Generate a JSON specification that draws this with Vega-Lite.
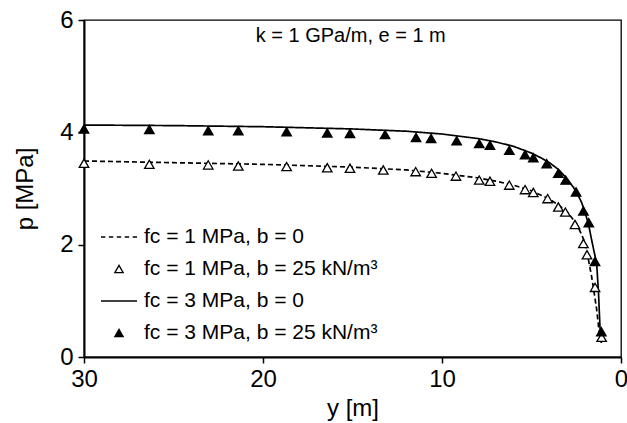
{
  "$schema": "https://vega.github.io/schema/vega-lite/v6.json",
  "width": 537,
  "height": 337,
  "autosize": "none",
  "padding": {"left": 84, "top": 20, "right": 6, "bottom": 66},
  "background": "white",
  "config": {
    "font": "Liberation Sans",
    "view": {"stroke": "black", "strokeWidth": 1.3},
    "axis": {
      "domainColor": "black", "domainWidth": 2, "tickColor": "black", "tickWidth": 1.5, "tickSize": 6,
      "grid": false, "labelFont": "Liberation Sans", "labelFontSize": 24, "labelColor": "black", "labelFlush": false,
      "titleFont": "Liberation Sans", "titleFontSize": 24, "titleFontWeight": "normal", "titleColor": "black"
    }
  },
  "datasets": {
    "lines": [
      {"series": "fc = 1 MPa, b = 0", "y_m": 30, "p": 3.49},
      {"series": "fc = 1 MPa, b = 0", "y_m": 25, "p": 3.46},
      {"series": "fc = 1 MPa, b = 0", "y_m": 20, "p": 3.43},
      {"series": "fc = 1 MPa, b = 0", "y_m": 15, "p": 3.38},
      {"series": "fc = 1 MPa, b = 0", "y_m": 12, "p": 3.33},
      {"series": "fc = 1 MPa, b = 0", "y_m": 10, "p": 3.27},
      {"series": "fc = 1 MPa, b = 0", "y_m": 8, "p": 3.19},
      {"series": "fc = 1 MPa, b = 0", "y_m": 7, "p": 3.13},
      {"series": "fc = 1 MPa, b = 0", "y_m": 6, "p": 3.06},
      {"series": "fc = 1 MPa, b = 0", "y_m": 5, "p": 2.96},
      {"series": "fc = 1 MPa, b = 0", "y_m": 4, "p": 2.81},
      {"series": "fc = 1 MPa, b = 0", "y_m": 3.5, "p": 2.71},
      {"series": "fc = 1 MPa, b = 0", "y_m": 3, "p": 2.58},
      {"series": "fc = 1 MPa, b = 0", "y_m": 2.5, "p": 2.38},
      {"series": "fc = 1 MPa, b = 0", "y_m": 2.2, "p": 2.18},
      {"series": "fc = 1 MPa, b = 0", "y_m": 2.0, "p": 2.02},
      {"series": "fc = 1 MPa, b = 0", "y_m": 1.83, "p": 1.75},
      {"series": "fc = 1 MPa, b = 0", "y_m": 1.64, "p": 1.43},
      {"series": "fc = 1 MPa, b = 0", "y_m": 1.55, "p": 1.25},
      {"series": "fc = 1 MPa, b = 0", "y_m": 1.36, "p": 0.85},
      {"series": "fc = 1 MPa, b = 0", "y_m": 1.17, "p": 0.3},
      {"series": "fc = 3 MPa, b = 0", "y_m": 30, "p": 4.13},
      {"series": "fc = 3 MPa, b = 0", "y_m": 25, "p": 4.12},
      {"series": "fc = 3 MPa, b = 0", "y_m": 20, "p": 4.1},
      {"series": "fc = 3 MPa, b = 0", "y_m": 15, "p": 4.06},
      {"series": "fc = 3 MPa, b = 0", "y_m": 12, "p": 4.02},
      {"series": "fc = 3 MPa, b = 0", "y_m": 10, "p": 3.97},
      {"series": "fc = 3 MPa, b = 0", "y_m": 8, "p": 3.89},
      {"series": "fc = 3 MPa, b = 0", "y_m": 7, "p": 3.83},
      {"series": "fc = 3 MPa, b = 0", "y_m": 6, "p": 3.75},
      {"series": "fc = 3 MPa, b = 0", "y_m": 5, "p": 3.63},
      {"series": "fc = 3 MPa, b = 0", "y_m": 4.5, "p": 3.55},
      {"series": "fc = 3 MPa, b = 0", "y_m": 4, "p": 3.46},
      {"series": "fc = 3 MPa, b = 0", "y_m": 3.5, "p": 3.34},
      {"series": "fc = 3 MPa, b = 0", "y_m": 3, "p": 3.17},
      {"series": "fc = 3 MPa, b = 0", "y_m": 2.5, "p": 2.95},
      {"series": "fc = 3 MPa, b = 0", "y_m": 2.2, "p": 2.75},
      {"series": "fc = 3 MPa, b = 0", "y_m": 2.0, "p": 2.57},
      {"series": "fc = 3 MPa, b = 0", "y_m": 1.8, "p": 2.34},
      {"series": "fc = 3 MPa, b = 0", "y_m": 1.65, "p": 2.1},
      {"series": "fc = 3 MPa, b = 0", "y_m": 1.5, "p": 1.87},
      {"series": "fc = 3 MPa, b = 0", "y_m": 1.36, "p": 1.67},
      {"series": "fc = 3 MPa, b = 0", "y_m": 1.25, "p": 1.1},
      {"series": "fc = 3 MPa, b = 0", "y_m": 1.17, "p": 0.5},
      {"series": "fc = 3 MPa, b = 0", "y_m": 1.1, "p": 0.25}
    ],
    "points": [
      {"series": "fc = 1 MPa, b = 25 kN/m³", "y_m": 30, "p": 3.45},
      {"series": "fc = 1 MPa, b = 25 kN/m³", "y_m": 26.35, "p": 3.43},
      {"series": "fc = 1 MPa, b = 25 kN/m³", "y_m": 23.06, "p": 3.42},
      {"series": "fc = 1 MPa, b = 25 kN/m³", "y_m": 21.38, "p": 3.4},
      {"series": "fc = 1 MPa, b = 25 kN/m³", "y_m": 18.68, "p": 3.39},
      {"series": "fc = 1 MPa, b = 25 kN/m³", "y_m": 16.41, "p": 3.37},
      {"series": "fc = 1 MPa, b = 25 kN/m³", "y_m": 15.14, "p": 3.36},
      {"series": "fc = 1 MPa, b = 25 kN/m³", "y_m": 13.28, "p": 3.33},
      {"series": "fc = 1 MPa, b = 25 kN/m³", "y_m": 11.47, "p": 3.3},
      {"series": "fc = 1 MPa, b = 25 kN/m³", "y_m": 10.58, "p": 3.27},
      {"series": "fc = 1 MPa, b = 25 kN/m³", "y_m": 9.22, "p": 3.22},
      {"series": "fc = 1 MPa, b = 25 kN/m³", "y_m": 7.92, "p": 3.15},
      {"series": "fc = 1 MPa, b = 25 kN/m³", "y_m": 7.32, "p": 3.13},
      {"series": "fc = 1 MPa, b = 25 kN/m³", "y_m": 6.24, "p": 3.06},
      {"series": "fc = 1 MPa, b = 25 kN/m³", "y_m": 5.36, "p": 2.98},
      {"series": "fc = 1 MPa, b = 25 kN/m³", "y_m": 4.9, "p": 2.93},
      {"series": "fc = 1 MPa, b = 25 kN/m³", "y_m": 4.1, "p": 2.82},
      {"series": "fc = 1 MPa, b = 25 kN/m³", "y_m": 3.5, "p": 2.67},
      {"series": "fc = 1 MPa, b = 25 kN/m³", "y_m": 3.11, "p": 2.58},
      {"series": "fc = 1 MPa, b = 25 kN/m³", "y_m": 2.57, "p": 2.36},
      {"series": "fc = 1 MPa, b = 25 kN/m³", "y_m": 2.1, "p": 2.02},
      {"series": "fc = 1 MPa, b = 25 kN/m³", "y_m": 1.9, "p": 1.82},
      {"series": "fc = 1 MPa, b = 25 kN/m³", "y_m": 1.45, "p": 1.24},
      {"series": "fc = 1 MPa, b = 25 kN/m³", "y_m": 1.08, "p": 0.35},
      {"series": "fc = 3 MPa, b = 25 kN/m³", "y_m": 30, "p": 4.06},
      {"series": "fc = 3 MPa, b = 25 kN/m³", "y_m": 26.35, "p": 4.05},
      {"series": "fc = 3 MPa, b = 25 kN/m³", "y_m": 23.06, "p": 4.03},
      {"series": "fc = 3 MPa, b = 25 kN/m³", "y_m": 21.38, "p": 4.03},
      {"series": "fc = 3 MPa, b = 25 kN/m³", "y_m": 18.68, "p": 4.01},
      {"series": "fc = 3 MPa, b = 25 kN/m³", "y_m": 16.41, "p": 3.99},
      {"series": "fc = 3 MPa, b = 25 kN/m³", "y_m": 15.14, "p": 3.98},
      {"series": "fc = 3 MPa, b = 25 kN/m³", "y_m": 13.18, "p": 3.96},
      {"series": "fc = 3 MPa, b = 25 kN/m³", "y_m": 11.45, "p": 3.91},
      {"series": "fc = 3 MPa, b = 25 kN/m³", "y_m": 10.61, "p": 3.89},
      {"series": "fc = 3 MPa, b = 25 kN/m³", "y_m": 9.18, "p": 3.85},
      {"series": "fc = 3 MPa, b = 25 kN/m³", "y_m": 7.92, "p": 3.8},
      {"series": "fc = 3 MPa, b = 25 kN/m³", "y_m": 7.32, "p": 3.77},
      {"series": "fc = 3 MPa, b = 25 kN/m³", "y_m": 6.24, "p": 3.68},
      {"series": "fc = 3 MPa, b = 25 kN/m³", "y_m": 5.36, "p": 3.6},
      {"series": "fc = 3 MPa, b = 25 kN/m³", "y_m": 4.9, "p": 3.55},
      {"series": "fc = 3 MPa, b = 25 kN/m³", "y_m": 4.15, "p": 3.44},
      {"series": "fc = 3 MPa, b = 25 kN/m³", "y_m": 3.5, "p": 3.27},
      {"series": "fc = 3 MPa, b = 25 kN/m³", "y_m": 3.09, "p": 3.15},
      {"series": "fc = 3 MPa, b = 25 kN/m³", "y_m": 2.51, "p": 2.94},
      {"series": "fc = 3 MPa, b = 25 kN/m³", "y_m": 2.1, "p": 2.6},
      {"series": "fc = 3 MPa, b = 25 kN/m³", "y_m": 1.8, "p": 2.39},
      {"series": "fc = 3 MPa, b = 25 kN/m³", "y_m": 1.45, "p": 1.7},
      {"series": "fc = 3 MPa, b = 25 kN/m³", "y_m": 1.1, "p": 0.45}
    ],
    "note": [{"y_m": 15.1, "p": 5.71, "label": "k = 1 GPa/m, e = 1 m"}]
  },
  "layer": [
    {
      "data": {"name": "lines"},
      "mark": {"type": "line", "color": "black", "strokeWidth": 1.7},
      "encoding": {
        "x": {"field": "y_m", "type": "quantitative", "scale": {"domain": [0, 30], "reverse": true, "nice": false},
              "axis": {"values": [0, 10, 20, 30], "format": "d", "title": "y [m]", "labelPadding": 4, "titlePadding": 5}},
        "y": {"field": "p", "type": "quantitative", "scale": {"domain": [0, 6], "nice": false},
              "axis": {"values": [0, 2, 4, 6], "format": "d", "title": "p [MPa]", "labelPadding": 5, "titlePadding": 22}},
        "strokeDash": {"field": "series", "type": "nominal",
                       "scale": {"domain": ["fc = 1 MPa, b = 0", "fc = 3 MPa, b = 0"], "range": [[5, 3], [1, 0]]},
                       "legend": null}
      }
    },
    {
      "data": {"name": "points"},
      "mark": {"type": "point", "filled": false, "strokeWidth": 1.3, "opacity": 1, "size": 1700},
      "encoding": {
        "x": {"field": "y_m", "type": "quantitative"},
        "y": {"field": "p", "type": "quantitative"},
        "shape": {"field": "series", "type": "nominal",
          "scale": {
            "domain": ["fc = 1 MPa, b = 0", "fc = 1 MPa, b = 25 kN/m³", "fc = 3 MPa, b = 0", "fc = 3 MPa, b = 25 kN/m³"],
            "range": ["M-1,0L-0.76,0M-0.56,0L-0.32,0M-0.12,0L0.12,0M0.32,0L0.56,0M0.76,0L1,0", "M-0.23,0.2L0.23,0.2L0,-0.2Z", "M-1,0L1,0", "M-0.23,0.2L0.23,0.2L0,-0.2Z"]
          },
          "legend": {
            "title": null, "orient": "none", "legendX": 16, "legendY": 198, "padding": 0,
            "symbolSize": 1296, "symbolStrokeWidth": 1.3, "symbolOpacity": 1,
            "labelFont": "Liberation Sans", "labelFontSize": 21, "labelColor": "black", "labelOffset": 6, "labelLimit": 0,
            "rowPadding": 3
          }
        },
        "stroke": {"field": "series", "type": "nominal",
          "scale": {
            "domain": ["fc = 1 MPa, b = 0", "fc = 1 MPa, b = 25 kN/m³", "fc = 3 MPa, b = 0", "fc = 3 MPa, b = 25 kN/m³"],
            "range": ["black", "black", "black", "black"]
          }
        },
        "fill": {"field": "series", "type": "nominal",
          "scale": {
            "domain": ["fc = 1 MPa, b = 0", "fc = 1 MPa, b = 25 kN/m³", "fc = 3 MPa, b = 0", "fc = 3 MPa, b = 25 kN/m³"],
            "range": ["transparent", "white", "transparent", "black"]
          }
        }
      }
    },
    {
      "data": {"name": "note"},
      "mark": {"type": "text", "font": "Liberation Sans", "fontSize": 20, "color": "black", "align": "center", "baseline": "middle"},
      "encoding": {
        "x": {"field": "y_m", "type": "quantitative"},
        "y": {"field": "p", "type": "quantitative"},
        "text": {"field": "label"}
      }
    }
  ]
}
